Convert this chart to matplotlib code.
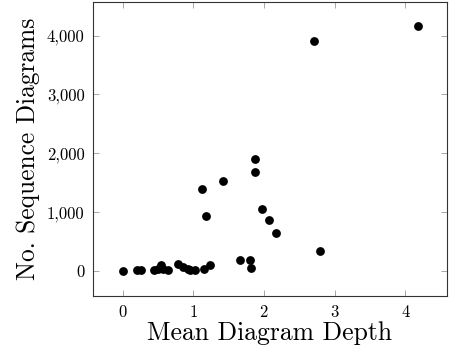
import matplotlib
matplotlib.use("Agg")
import matplotlib.pyplot as plt
from matplotlib.ticker import FuncFormatter

# mean diagram depth vs number of sequence diagrams
depth = [0.0, 0.20, 0.26, 0.45, 0.50, 0.54, 0.57, 0.65, 0.79, 0.86, 0.92, 0.96,
         1.02, 1.15, 1.23, 1.66, 1.80, 1.81, 1.875, 1.875, 1.42, 1.12, 1.175,
         1.97, 2.07, 2.165, 2.70, 2.79, 4.17]
n_diagrams = [0, 8, 20, 20, 40, 100, 25, 15, 115, 70, 30, 10,
              10, 30, 100, 186, 186, 50, 1902, 1688, 1536, 1389, 928,
              1046, 866, 646, 3904, 343, 4163]

plt.rcParams["font.family"] = "serif"
plt.rcParams["font.serif"] = ["cmr10"]
plt.rcParams["mathtext.fontset"] = "cm"
plt.rcParams["axes.formatter.use_mathtext"] = True

fig = plt.figure(figsize=(4.53, 3.52), dpi=100)
ax = fig.add_axes([0.2053, 0.1605, 0.7815, 0.8352])

ax.scatter(depth, n_diagrams, s=40, color="black", zorder=3, linewidths=0)

ax.set_xlim(-0.417, 4.587)
ax.set_ylim(-417, 4580)
ax.set_xticks([0, 1, 2, 3, 4])
ax.set_yticks([0, 1000, 2000, 3000, 4000])
ax.yaxis.set_major_formatter(FuncFormatter(lambda v, p: f"{int(v):,}"))

ax.tick_params(direction="in", length=4, width=0.6, color="#999999",
               top=True, right=True, labelsize=12, pad=6)
for s in ax.spines.values():
    s.set_linewidth(0.8)
    s.set_color("#333333")

ax.set_xlabel("Mean Diagram Depth", fontsize=18.5, labelpad=1)
ax.set_ylabel("No. Sequence Diagrams", fontsize=18.3, labelpad=5)

fig.savefig("out.png", dpi=100)
